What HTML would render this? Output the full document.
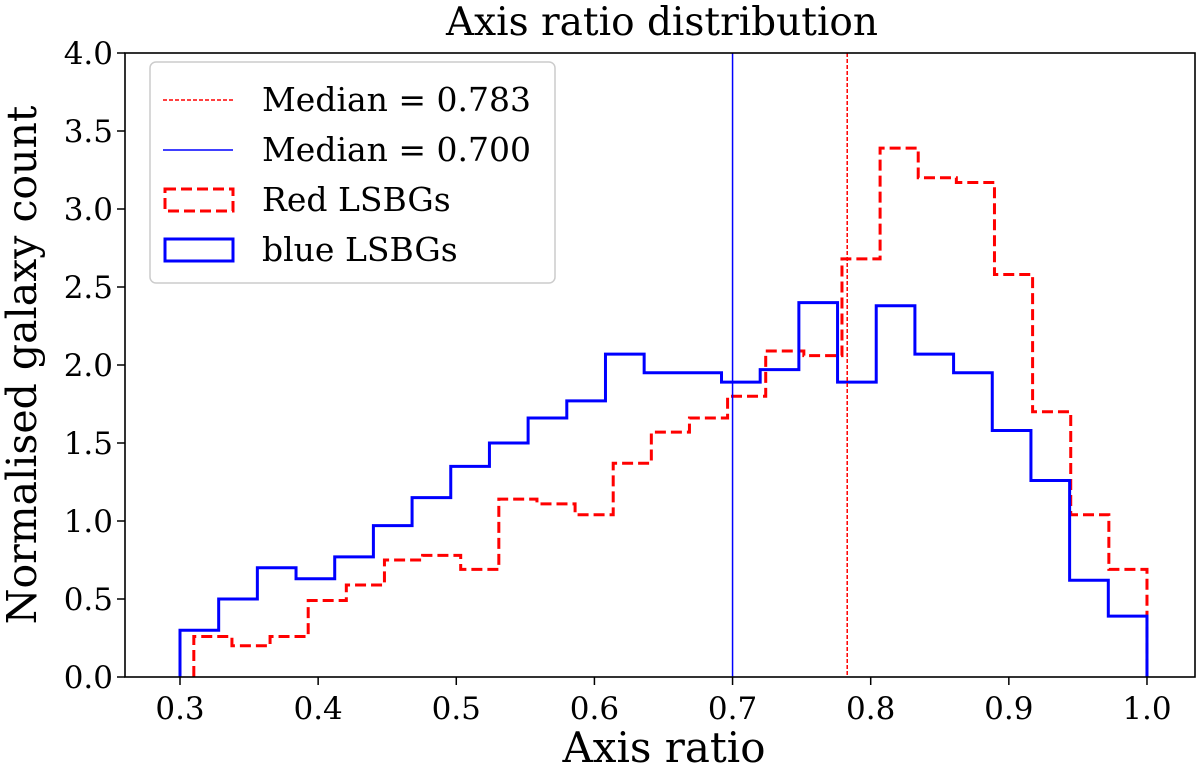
<!DOCTYPE html>
<html><head><meta charset="utf-8"><style>
body{margin:0;background:#fff}
svg text{font-family:"DejaVu Serif","Liberation Serif",serif;fill:#000}
</style></head><body>
<svg id="chart" width="1200" height="774" xmlns="http://www.w3.org/2000/svg"></svg>
<script>
const blueStart=0.3, blueEnd=1.0;
const blueValues=[0.30,0.50,0.70,0.63,0.77,0.97,1.15,1.35,1.50,1.66,1.77,2.07,1.95,1.95,1.89,1.97,2.40,1.89,2.38,2.07,1.95,1.58,1.26,0.62,0.39];
const redStart=0.31, redEnd=1.0;
const redValues=[0.26,0.20,0.26,0.49,0.59,0.75,0.78,0.69,1.14,1.11,1.04,1.37,1.57,1.66,1.80,2.09,2.06,2.68,3.39,3.20,3.17,2.58,1.70,1.04,0.69];
const medianRed=0.783, medianBlue=0.700;
const xTicks=[0.3,0.4,0.5,0.6,0.7,0.8,0.9,1.0];
const yTicks=[0,0.5,1.0,1.5,2.0,2.5,3.0,3.5,4.0];

const L=125,R=1195,T=53,B=677;
const X=v=>180+(v-0.3)*1381.4;
const Y=v=>B-(v/4)*(B-T);
const svg=document.getElementById('chart');
const NS='http://www.w3.org/2000/svg';
function mk(tag,attrs,parent){const e=document.createElementNS(NS,tag);for(const k in attrs)e.setAttribute(k,attrs[k]);(parent||svg).appendChild(e);return e;}

function stepPath(start,end,vals){
  const w=(end-start)/vals.length;
  let d=`M${X(start)},${Y(0)}`;
  vals.forEach((v,i)=>{d+=` L${X(start+i*w)},${Y(v)} L${X(start+(i+1)*w)},${Y(v)}`;});
  d+=` L${X(end)},${Y(0)}`;
  return d;
}
const red=mk('path',{d:stepPath(redStart,redEnd,redValues),fill:'none',stroke:'#ff0000','stroke-width':3,'stroke-dasharray':'11,5'});


const blue=mk('path',{d:stepPath(blueStart,blueEnd,blueValues),fill:'none',stroke:'#0000ff','stroke-width':3});


const mr=mk('line',{x1:X(medianRed),x2:X(medianRed),y1:T,y2:B,stroke:'#ff0000','stroke-width':1.5,'stroke-dasharray':'4,2'});


const mb=mk('line',{x1:X(medianBlue),x2:X(medianBlue),y1:T,y2:B,stroke:'#0000ff','stroke-width':1.5});



const frame=mk('rect',{x:L,y:T,width:R-L,height:B-T,fill:'none',stroke:'#000','stroke-width':1.6});



xTicks.forEach(t=>{
  mk('line',{x1:X(t),x2:X(t),y1:B,y2:B+8,stroke:'#000','stroke-width':1.5});
  const tx=mk('text',{x:X(t),y:B+42,'text-anchor':'middle','font-size':31});
  tx.textContent=t.toFixed(1);
  
  
});
yTicks.forEach(t=>{
  mk('line',{x1:L-8,x2:L,y1:Y(t),y2:Y(t),stroke:'#000','stroke-width':1.5});
  const tx=mk('text',{x:L-12,y:Y(t)+11,'text-anchor':'end','font-size':31});
  tx.textContent=t.toFixed(1);
  
  
});
const title=mk('text',{x:662,y:35,'text-anchor':'middle','font-size':39});
title.textContent='Axis ratio distribution';


const xl=mk('text',{x:664,y:762,'text-anchor':'middle','font-size':42});
xl.textContent='Axis ratio';


const yl=mk('text',{x:0,y:0,'text-anchor':'middle','font-size':41,transform:`translate(36,${(T+B)/2}) rotate(-90)`});
yl.textContent='Normalised galaxy count';



const lg=mk('g',{});


mk('rect',{x:150,y:62,width:405,height:221,rx:6,fill:'#fff','fill-opacity':0.85,stroke:'#ccc','stroke-width':1.5},lg);
const items=[
 {label:'Median = 0.783',type:'line',color:'#ff0000',dash:'4,2',w:1.5},
 {label:'Median = 0.700',type:'line',color:'#0000ff',dash:'',w:1.5},
 {label:'Red LSBGs',type:'box',color:'#ff0000',dash:'11,5',w:3},
 {label:'blue LSBGs',type:'box',color:'#0000ff',dash:'',w:3}
];
items.forEach((it,i)=>{
  const cy=100+i*50;
  const g=mk('g',{},lg);
  
  
  if(it.type==='line') mk('line',{x1:163,x2:233,y1:cy,y2:cy,stroke:it.color,'stroke-width':it.w,'stroke-dasharray':it.dash},g);
  else mk('rect',{x:165,y:cy-11,width:68,height:22,fill:'none',stroke:it.color,'stroke-width':it.w,'stroke-dasharray':it.dash},g);
  const t=mk('text',{x:262,y:cy+11,'font-size':33},g);
  t.textContent=it.label;
});
</script>
</body></html>
